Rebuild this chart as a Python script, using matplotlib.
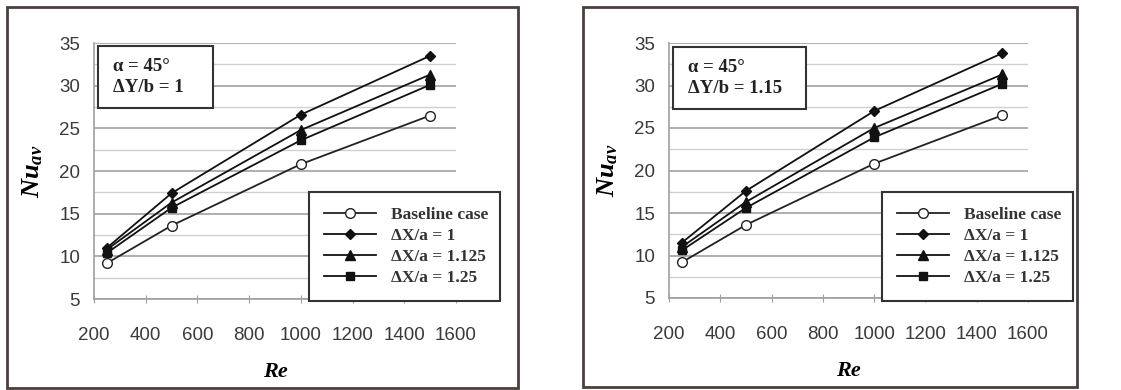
import matplotlib
matplotlib.use("Agg")
import matplotlib.pyplot as plt
from matplotlib.patches import Rectangle
from matplotlib.ticker import MultipleLocator

plt.rcParams["mathtext.fontset"] = "custom"
plt.rcParams["mathtext.it"] = "Liberation Serif:italic:bold"
plt.rcParams["mathtext.rm"] = "Liberation Serif:bold"

re_vals = [250, 500, 1000, 1500]

# panel 1: dY/b = 1
left_base = [9.2, 13.6, 20.8, 26.5]
left_dx1 = [11.0, 17.4, 26.6, 33.5]
left_dx1125 = [10.8, 16.3, 24.8, 31.3]
left_dx125 = [10.4, 15.7, 23.6, 30.1]

# panel 2: dY/b = 1.15
right_base = [9.2, 13.6, 20.8, 26.5]
right_dx1 = [11.5, 17.6, 27.0, 33.8]
right_dx1125 = [11.0, 16.3, 25.0, 31.3]
right_dx125 = [10.6, 15.6, 23.9, 30.2]

labels = ["Baseline case", "ΔX/a = 1", "ΔX/a = 1.125", "ΔX/a = 1.25"]
box_texts = ["α = 45\u00b0\nΔY/b = 1", "α = 45\u00b0\nΔY/b = 1.15"]

W, H = 1121, 390
fig = plt.figure(figsize=(W / 100, H / 100), dpi=100)
fig.patch.set_facecolor("white")

serif = ["Liberation Serif", "DejaVu Serif"]
sans = ["Liberation Sans", "DejaVu Sans"]


def fx(px):
    return px / W


def fy(py):
    return 1 - py / H


def panel(frame, axbox, textbox, boxtext, legbox, series):
    # outer frame
    x0, y0, x1, y1 = frame
    fig.patches.append(Rectangle((fx(x0), fy(y1)), fx(x1) - fx(x0), fy(y0) - fy(y1),
                                 transform=fig.transFigure, fill=False,
                                 edgecolor="#4a3f3f", linewidth=2))
    a0, b0, a1, b1 = axbox
    ax = fig.add_axes([fx(a0), fy(b1), fx(a1) - fx(a0), fy(b0) - fy(b1)])
    ax.set_xlim(200, 1600)
    ax.set_ylim(5, 35)
    ax.xaxis.set_major_locator(MultipleLocator(200))
    ax.yaxis.set_major_locator(MultipleLocator(5))
    ax.yaxis.set_minor_locator(MultipleLocator(2.5))
    ax.grid(True, axis="y", which="major", color="#a8a8a8", linewidth=1.3)
    ax.grid(True, axis="y", which="minor", color="#d0d0d0", linewidth=1.0)
    ax.set_axisbelow(True)
    for s in ["top", "right"]:
        ax.spines[s].set_visible(False)
    for s in ["left", "bottom"]:
        ax.spines[s].set_color("#a0a0a0")
        ax.spines[s].set_linewidth(1.2)
    ax.tick_params(axis="x", direction="inout", length=6, color="#a0a0a0", pad=17)
    ax.tick_params(axis="y", length=0, pad=10)
    ax.tick_params(axis="y", which="minor", length=0)
    for t in ax.get_xticklabels() + ax.get_yticklabels():
        t.set_fontfamily(sans)
        t.set_fontsize(13.5)
        t.set_color("#3a3a3a")

    base, d1, d2, d3 = series
    handles = []
    handles += ax.plot(re_vals, base, color="#222222", lw=1.3, marker="o", ms=7,
                       mfc="white", mec="#222222", mew=1.0)
    handles += ax.plot(re_vals, d1, color="#111111", lw=1.3, marker="D", ms=5, mfc="#111111")
    handles += ax.plot(re_vals, d2, color="#111111", lw=1.3, marker="^", ms=7, mfc="#111111")
    handles += ax.plot(re_vals, d3, color="#111111", lw=1.3, marker="s", ms=6, mfc="#111111")

    ax.set_xlabel("Re", fontfamily=serif, fontsize=16, fontweight="bold",
                  fontstyle="italic", labelpad=13)
    ax.set_ylabel("$Nu_{av}$", fontsize=19, labelpad=10)

    # parameter box
    t0, u0, t1, u1 = textbox
    fig.patches.append(Rectangle((fx(t0), fy(u1)), fx(t1) - fx(t0), fy(u0) - fy(u1),
                                 transform=fig.transFigure, facecolor="white",
                                 edgecolor="#333333", linewidth=1.5, zorder=5))
    fig.text(fx(t0 + 15), fy((u0 + u1) / 2), boxtext, family=serif,
             fontsize=13.5, fontweight="bold", va="center", ha="left",
             linespacing=1.35, color="#222222", zorder=6)

    # legend
    l0, m0, l1, m1 = legbox
    leg = ax.legend(handles, labels, loc="upper left",
                    bbox_to_anchor=(fx(l0), fy(m1), fx(l1) - fx(l0), fy(m0) - fy(m1)),
                    bbox_transform=fig.transFigure, mode="expand",
                    frameon=True, fancybox=False, framealpha=1,
                    edgecolor="#333333", handlelength=3.0, handletextpad=0.9,
                    borderaxespad=0, borderpad=0.85, labelspacing=0.28,
                    prop={"family": serif, "weight": "bold", "size": 12.5})
    leg.get_frame().set_linewidth(1.5)
    for t in leg.get_texts():
        t.set_color("#333333")
    return ax


panel((7, 7, 518, 388), (94, 43, 456, 299), (98, 46, 213, 108), box_texts[0],
      (309, 192, 500, 293), (left_base, left_dx1, left_dx1125, left_dx125))
panel((583, 7, 1077, 387), (669, 43, 1028, 298), (673, 47, 806, 109), box_texts[1],
      (882, 192, 1073, 292), (right_base, right_dx1, right_dx1125, right_dx125))

fig.savefig("out.png", dpi=100)
